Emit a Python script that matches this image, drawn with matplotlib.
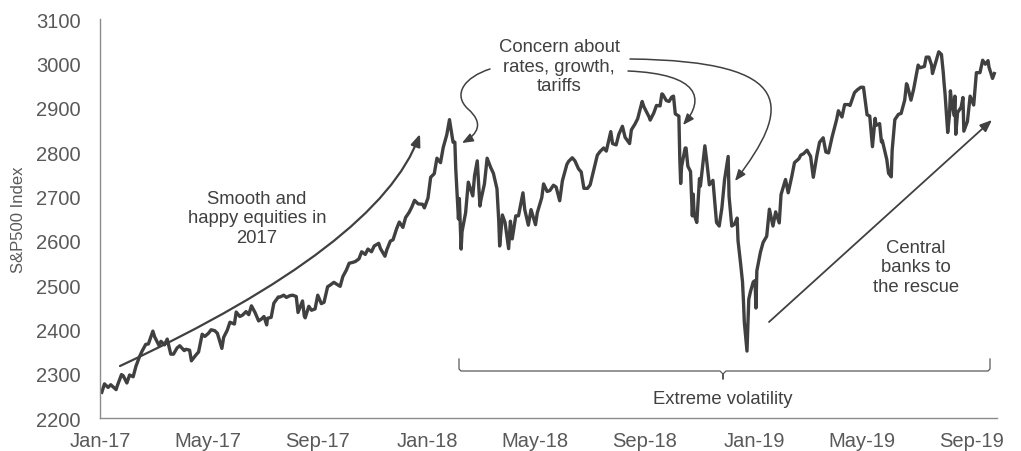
import matplotlib

matplotlib.use("Agg")
import matplotlib.dates as mdates
import matplotlib.pyplot as plt
import pandas as pd
from matplotlib.lines import Line2D
from matplotlib.patches import FancyArrowPatch
from matplotlib.path import Path
from matplotlib.transforms import Affine2D

# S&P500 closes (roughly every few trading days)
dates_2017 = [
    "2017-01-03", "2017-01-06", "2017-01-10", "2017-01-13", "2017-01-19", "2017-01-20",
    "2017-01-25", "2017-01-27", "2017-01-31", "2017-02-03", "2017-02-07", "2017-02-10",
    "2017-02-14", "2017-02-17", "2017-02-21", "2017-02-24", "2017-03-01", "2017-03-03",
    "2017-03-08", "2017-03-10", "2017-03-14", "2017-03-17", "2017-03-21", "2017-03-24",
    "2017-03-28", "2017-03-31", "2017-04-05", "2017-04-07", "2017-04-11", "2017-04-13",
    "2017-04-18", "2017-04-21", "2017-04-25", "2017-04-28", "2017-05-02", "2017-05-05",
    "2017-05-09", "2017-05-12", "2017-05-17", "2017-05-19", "2017-05-23", "2017-05-26",
    "2017-05-31", "2017-06-02", "2017-06-06", "2017-06-09", "2017-06-13", "2017-06-16",
    "2017-06-19", "2017-06-23", "2017-06-27", "2017-06-30", "2017-07-03", "2017-07-06",
    "2017-07-07", "2017-07-11", "2017-07-14", "2017-07-19", "2017-07-21", "2017-07-25",
    "2017-07-28", "2017-08-01", "2017-08-04", "2017-08-08", "2017-08-10", "2017-08-15",
    "2017-08-17", "2017-08-18", "2017-08-22", "2017-08-25", "2017-08-29", "2017-09-01",
    "2017-09-05", "2017-09-08", "2017-09-12", "2017-09-15", "2017-09-19", "2017-09-22",
    "2017-09-26", "2017-09-29", "2017-10-03", "2017-10-06", "2017-10-10", "2017-10-13",
    "2017-10-17", "2017-10-20", "2017-10-24", "2017-10-27", "2017-10-31", "2017-11-03",
    "2017-11-08", "2017-11-10", "2017-11-15", "2017-11-17", "2017-11-21", "2017-11-24",
    "2017-11-28", "2017-12-01", "2017-12-05", "2017-12-08", "2017-12-12", "2017-12-15",
    "2017-12-18", "2017-12-22", "2017-12-27", "2017-12-29",
]
close_2017 = [
    2258, 2277, 2269, 2275, 2264, 2271, 2298, 2295, 2279, 2297, 2293, 2316,
    2338, 2351, 2366, 2367, 2396, 2383, 2363, 2373, 2365, 2378, 2344, 2344,
    2358, 2363, 2352, 2355, 2353, 2329, 2342, 2349, 2389, 2384, 2391, 2399,
    2397, 2391, 2357, 2382, 2398, 2416, 2412, 2439, 2429, 2432, 2440, 2433,
    2453, 2438, 2419, 2423, 2429, 2410, 2425, 2427, 2459, 2473, 2473, 2477,
    2472, 2476, 2477, 2474, 2438, 2464, 2430, 2426, 2452, 2443, 2446, 2477,
    2458, 2461, 2496, 2500, 2506, 2502, 2497, 2519, 2534, 2549, 2551, 2553,
    2559, 2575, 2569, 2581, 2575, 2588, 2594, 2582, 2565, 2579, 2599, 2602,
    2627, 2642, 2630, 2652, 2664, 2676, 2691, 2683, 2682, 2674,
]
dates_2018 = [
    "2018-01-02", "2018-01-05", "2018-01-09", "2018-01-12", "2018-01-16", "2018-01-19",
    "2018-01-23", "2018-01-26", "2018-01-30", "2018-02-01", "2018-02-02", "2018-02-05",
    "2018-02-06", "2018-02-08", "2018-02-09", "2018-02-13", "2018-02-16", "2018-02-21",
    "2018-02-23", "2018-02-26", "2018-03-01", "2018-03-02", "2018-03-06", "2018-03-09",
    "2018-03-13", "2018-03-16", "2018-03-20", "2018-03-22", "2018-03-23", "2018-03-26",
    "2018-03-29", "2018-04-02", "2018-04-04", "2018-04-06", "2018-04-10", "2018-04-13",
    "2018-04-18", "2018-04-20", "2018-04-24", "2018-04-27", "2018-05-02", "2018-05-04",
    "2018-05-09", "2018-05-11", "2018-05-15", "2018-05-18", "2018-05-22", "2018-05-25",
    "2018-05-29", "2018-06-01", "2018-06-06", "2018-06-08", "2018-06-12", "2018-06-15",
    "2018-06-19", "2018-06-22", "2018-06-25", "2018-06-29", "2018-07-02", "2018-07-06",
    "2018-07-10", "2018-07-13", "2018-07-17", "2018-07-20", "2018-07-25", "2018-07-27",
    "2018-07-31", "2018-08-03", "2018-08-07", "2018-08-10", "2018-08-15", "2018-08-17",
    "2018-08-21", "2018-08-24", "2018-08-29", "2018-08-31", "2018-09-06", "2018-09-07",
    "2018-09-11", "2018-09-14", "2018-09-18", "2018-09-20", "2018-09-21", "2018-09-25",
    "2018-09-28", "2018-10-01", "2018-10-03", "2018-10-05", "2018-10-09", "2018-10-10",
    "2018-10-11", "2018-10-12", "2018-10-16", "2018-10-17", "2018-10-19", "2018-10-22",
    "2018-10-24", "2018-10-25", "2018-10-26", "2018-10-29", "2018-11-01", "2018-11-02",
    "2018-11-07", "2018-11-09", "2018-11-12", "2018-11-16", "2018-11-20", "2018-11-23",
    "2018-11-26", "2018-11-29", "2018-12-03", "2018-12-04", "2018-12-07", "2018-12-10",
    "2018-12-13", "2018-12-14", "2018-12-17", "2018-12-19", "2018-12-20", "2018-12-21",
    "2018-12-24", "2018-12-26", "2018-12-28", "2018-12-31",
]
close_2018 = [
    2696, 2743, 2751, 2786, 2776, 2810, 2839, 2873, 2822, 2822, 2762, 2649,
    2695, 2581, 2620, 2663, 2732, 2701, 2747, 2780, 2678, 2691, 2728, 2786,
    2765, 2752, 2717, 2644, 2588, 2658, 2641, 2582, 2644, 2604, 2656, 2656,
    2708, 2670, 2635, 2670, 2636, 2663, 2697, 2728, 2711, 2713, 2725, 2721,
    2690, 2735, 2772, 2779, 2787, 2780, 2762, 2755, 2718, 2718, 2726, 2760,
    2793, 2801, 2809, 2802, 2846, 2819, 2816, 2840, 2858, 2833, 2819, 2850,
    2863, 2875, 2914, 2902, 2878, 2872, 2888, 2905, 2904, 2931, 2930, 2916,
    2914, 2924, 2926, 2886, 2881, 2786, 2729, 2767, 2809, 2809, 2768, 2756,
    2656, 2705, 2659, 2641, 2740, 2723, 2814, 2781, 2726, 2736, 2641, 2633,
    2674, 2738, 2790, 2700, 2633, 2637, 2651, 2600, 2546, 2507, 2467, 2417,
    2351, 2468, 2486, 2507,
]
dates_2019 = [
    "2019-01-02", "2019-01-03", "2019-01-04", "2019-01-08", "2019-01-11", "2019-01-15",
    "2019-01-18", "2019-01-22", "2019-01-25", "2019-01-29", "2019-01-31", "2019-02-05",
    "2019-02-08", "2019-02-12", "2019-02-15", "2019-02-20", "2019-02-22", "2019-02-25",
    "2019-03-01", "2019-03-05", "2019-03-08", "2019-03-12", "2019-03-15", "2019-03-19",
    "2019-03-22", "2019-03-25", "2019-03-29", "2019-04-03", "2019-04-05", "2019-04-09",
    "2019-04-12", "2019-04-16", "2019-04-18", "2019-04-23", "2019-04-26", "2019-04-30",
    "2019-05-03", "2019-05-07", "2019-05-10", "2019-05-13", "2019-05-16", "2019-05-17",
    "2019-05-21", "2019-05-23", "2019-05-24", "2019-05-29", "2019-05-31", "2019-06-03",
    "2019-06-04", "2019-06-07", "2019-06-11", "2019-06-14", "2019-06-18", "2019-06-20",
    "2019-06-21", "2019-06-25", "2019-06-28", "2019-07-03", "2019-07-05", "2019-07-10",
    "2019-07-12", "2019-07-15", "2019-07-18", "2019-07-19", "2019-07-23", "2019-07-26",
    "2019-07-29", "2019-07-31", "2019-08-01", "2019-08-02", "2019-08-05", "2019-08-07",
    "2019-08-08", "2019-08-09", "2019-08-12", "2019-08-13", "2019-08-14", "2019-08-16",
    "2019-08-20", "2019-08-22", "2019-08-23", "2019-08-27", "2019-08-30", "2019-09-03",
    "2019-09-06", "2019-09-10", "2019-09-13", "2019-09-16", "2019-09-19", "2019-09-20",
    "2019-09-24", "2019-09-26",
]
close_2019 = [
    2510, 2448, 2532, 2574, 2596, 2610, 2671, 2633, 2665, 2640, 2704, 2738,
    2708, 2745, 2776, 2785, 2793, 2796, 2804, 2790, 2743, 2792, 2822, 2832,
    2800, 2798, 2834, 2873, 2893, 2879, 2907, 2907, 2905, 2934, 2940, 2946,
    2946, 2884, 2881, 2812, 2876, 2860, 2864, 2823, 2826, 2783, 2752, 2744,
    2804, 2873, 2885, 2887, 2917, 2954, 2950, 2917, 2942, 2996, 2990, 2993,
    3014, 3014, 2996, 2977, 3005, 3026, 3020, 2980, 2954, 2932, 2844, 2884,
    2938, 2919, 2883, 2926, 2840, 2889, 2901, 2923, 2847, 2869, 2926, 2906,
    2979, 2979, 3007, 2998, 3006, 2992, 2966, 2977,
]

smooth_label = "Smooth and\nhappy equities in\n2017"
concern_label = "Concern about\nrates, growth,\ntariffs"
rescue_label = "Central\nbanks to\nthe rescue"
bracket_label = "Extreme volatility"

INK = "#404040"
GREY = "#595959"
W, H = 1021, 452

plt.rcParams["font.family"] = ["Liberation Sans", "DejaVu Sans"]

spx = pd.Series(close_2017 + close_2018 + close_2019,
                index=pd.to_datetime(dates_2017 + dates_2018 + dates_2019))

fig = plt.figure(figsize=(W / 100, H / 100), dpi=100)
ax = fig.add_axes([100 / W, 1 - 419 / H, 897 / W, 399 / H])
# pixel coords (origin top-left) for the hand-placed callouts
px = Affine2D().scale(1 / W, -1 / H).translate(0, 1) + fig.transFigure

ax.plot(spx.index, spx.values, color=INK, lw=2.4, solid_joinstyle="round")

ax.set_ylim(2200, 3100)
ax.set_yticks(range(2200, 3101, 100))
ax.set_xlim(pd.Timestamp("2017-01-01"), pd.Timestamp("2019-09-29"))
ax.xaxis.set_major_locator(mdates.MonthLocator(bymonth=[1, 5, 9]))
ax.xaxis.set_major_formatter(mdates.DateFormatter("%b-%y"))
ax.tick_params(axis="x", length=0, pad=9.5, labelsize=14.5, labelcolor=GREY)
ax.tick_params(axis="y", length=0, pad=14, labelsize=14.5, labelcolor=GREY)
for side in ["top", "right"]:
    ax.spines[side].set_visible(False)
for side in ["left", "bottom"]:
    ax.spines[side].set_color("#8c8c8c")
    ax.spines[side].set_linewidth(1.0)
ax.set_ylabel("S&P500 Index", fontsize=12, color=GREY)
ax.yaxis.set_label_coords(-0.083, 0.5)

txt = dict(transform=px, ha="center", va="center", fontsize=13.3, color=INK,
           linespacing=1.2)
ax.text(257, 219, smooth_label, **txt)
ax.text(559, 67, concern_label, **txt)
ax.text(916, 268, rescue_label, **txt)
ax.text(723, 400, bracket_label, **txt)

head = "-|>,head_length=0.55,head_width=0.22"

# smooth 2017 arrow
ax.annotate("", xy=(420, 135), xytext=(120, 367), xycoords=px, textcoords=px,
            arrowprops=dict(arrowstyle=head, connectionstyle="angle3,angleA=25,angleB=70",
                            shrinkA=0, shrinkB=0, lw=1.6, color=INK, mutation_scale=13))

# central banks arrow
ax.annotate("", xy=(992, 121), xytext=(769, 323), xycoords=px, textcoords=px,
            arrowprops=dict(arrowstyle=head, shrinkA=0, shrinkB=0, lw=1.3, color=INK,
                            mutation_scale=13))

# the three "concern" arrows
C4 = Path.CURVE4
concern_paths = [
    Path([(490, 70), (465, 78), (452, 95), (468, 110), (484, 124), (478, 135), (462, 144)],
         [Path.MOVETO, C4, C4, C4, C4, C4, C4]),
    Path([(628, 72), (700, 75), (705, 100), (683, 126)], [Path.MOVETO, C4, C4, C4]),
    Path([(630, 60), (800, 62), (790, 110), (735, 182)], [Path.MOVETO, C4, C4, C4]),
]
for p in concern_paths:
    fig.add_artist(FancyArrowPatch(path=p, transform=px, arrowstyle=head, lw=1.1,
                                   color=INK, mutation_scale=12))

# bracket under the volatile period
brace = [(459, 360), (459, 370), (461, 372), (720, 372), (723, 375), (723, 380),
         (723, 375), (726, 372), (988, 372), (990, 370), (990, 360)]
fig.add_artist(Line2D([p[0] for p in brace], [p[1] for p in brace], transform=px,
                      color=GREY, lw=0.9))

fig.savefig("out.png", dpi=100)
